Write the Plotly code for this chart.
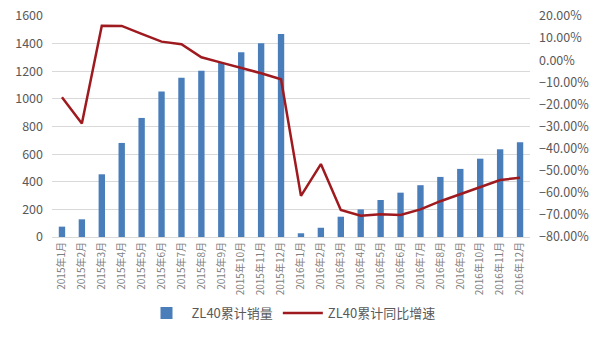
import plotly.graph_objects as go

months = [f"2015年{i}月" for i in range(1, 13)] + [f"2016年{i}月" for i in range(1, 13)]
sales = [75, 128, 454, 681, 862, 1053, 1153, 1203, 1259, 1338, 1403, 1469,
         27, 67, 147, 200, 268, 321, 375, 435, 493, 567, 635, 686]
growth = [-16.8, -28.6, 15.6, 15.5, 11.9, 8.4, 7.2, 1.3, -1.1, -3.4, -5.9, -8.6,
          -61.4, -47.0, -67.8, -70.4, -69.7, -70.0, -67.5, -63.8, -60.5, -57.2, -54.2, -53.2]
growth_frac = [g / 100 for g in growth]

font_cjk = "Noto Sans CJK SC, Noto Sans, sans-serif"
grey = "#595959"

fig = go.Figure()
fig.add_trace(go.Bar(x=months, y=sales, name="ZL40累计销量",
                     marker=dict(color="#4A7EBB", line=dict(width=0))))
fig.add_trace(go.Scatter(x=months, y=growth_frac, name="ZL40累计同比增速", yaxis="y2",
                         mode="lines", line=dict(color="#9E1A1F", width=2.5)))

fig.update_layout(
    width=600, height=339,
    margin=dict(l=52, r=70, t=16, b=102, autoexpand=False),
    paper_bgcolor="white", plot_bgcolor="white",
    bargap=0.68,
    font=dict(family=font_cjk, color=grey, size=12),
    xaxis=dict(tickangle=-90, tickfont=dict(size=10, color="#7f7f7f"),
               showgrid=False, showline=True, linecolor="#d9d9d9", linewidth=1,
               ticks="", automargin=False),
    yaxis=dict(range=[0, 1600], dtick=200, showgrid=True, gridcolor="#d9d9d9",
               gridwidth=1, zeroline=False, tickfont=dict(size=12.5, color=grey),
               ticks="", automargin=False, ticklabelstandoff=8),
    yaxis2=dict(range=[-0.8, 0.2], dtick=0.1, overlaying="y", side="right",
                tickformat=".2%", showgrid=False, zeroline=False,
                tickfont=dict(size=12.5, color=grey), ticks="", automargin=False,
                ticklabelstandoff=8),
    legend=dict(orientation="h", x=0.5, xanchor="center", y=-0.344, yanchor="middle",
                xref="paper", font=dict(size=13, color=grey), itemwidth=40),
    showlegend=True,
)

fig.write_html("out.html")
